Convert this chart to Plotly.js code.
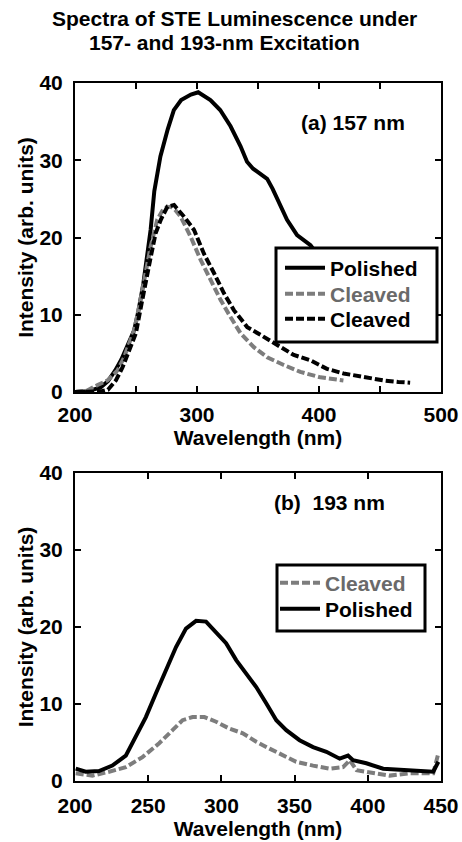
<!DOCTYPE html>
<html>
<head>
<meta charset="utf-8">
<script src="https://cdn.plot.ly/plotly-3.0.1.min.js"></script>
<style>html,body{margin:0;padding:0;background:#fff}</style>
</head>
<body>
<div id="chart" style="width:462px;height:842px"></div>
<script>
// Panel (a): 157-nm excitation
const wlA_polished  = [200, 210, 215, 221, 227, 233, 238, 243, 248.5, 252, 256, 259, 262, 265, 270, 276, 281, 287, 295, 301, 306, 311, 319, 327.5, 335.7, 341, 346, 351, 357.5, 362, 367, 373.8, 382, 388, 393, 405, 418, 430];
const intA_polished = [0, 0.1, 0.3, 0.6, 1.4, 2.8, 4.2, 6.0, 8.0, 10.5, 14.0, 17.5, 21.0, 26.0, 30.5, 34.0, 36.5, 37.8, 38.5, 38.8, 38.3, 37.8, 36.5, 34.4, 31.8, 29.8, 28.9, 28.4, 27.6, 26.3, 24.6, 22.3, 20.3, 19.6, 19.0, 16.5, 13.5, 11.0];

const wlA_cleavedGray  = [200, 210, 218.5, 226.7, 234.9, 240.3, 244.4, 248.5, 252.5, 256.6, 262, 267.4, 272.9, 278.5, 282, 286.6, 294.8, 303, 311.2, 319.4, 327.5, 335.7, 346.6, 357.5, 371.1, 384.7, 401.1, 410, 420];
const intA_cleavedGray = [0, 0.2, 0.9, 1.5, 2.8, 4.5, 6.3, 8.0, 11.0, 14.5, 18.8, 22.3, 23.8, 24.0, 23.6, 22.7, 20.1, 17.1, 14.5, 11.9, 9.7, 7.6, 5.8, 4.5, 3.5, 2.6, 1.9, 1.7, 1.5];

const wlA_cleavedBlack  = [200, 215, 222, 227, 233.5, 239, 244.4, 249.9, 254, 258, 262.1, 266, 270.3, 275.8, 281.2, 285, 289.4, 297.5, 305.7, 313.9, 322, 330.2, 341.2, 352, 365.7, 379.3, 392.9, 406.5, 420.1, 436.5, 452.8, 465, 474.7];
const intA_cleavedBlack = [0, 0, 0.1, 0.3, 1.5, 3.2, 5.4, 7.6, 11.0, 14.5, 17.5, 20.5, 22.3, 24.0, 24.2, 23.5, 22.7, 21.0, 17.9, 15.4, 12.8, 10.6, 8.4, 7.4, 6.1, 4.8, 4.1, 3.0, 2.4, 1.9, 1.5, 1.3, 1.2];

// Panel (b): 193-nm excitation
const wlB_cleaved  = [200.5, 211.9, 223.3, 234.7, 246.1, 257.5, 266.6, 273.5, 280.3, 288.4, 296.4, 305.5, 314.6, 323.8, 332.9, 342, 351.1, 362.6, 374, 383.1, 387.7, 392.3, 403.6, 415, 428.8, 444.7, 448.2];
const intB_cleaved = [1.0, 0.7, 1.2, 1.8, 3.1, 4.9, 6.6, 7.9, 8.3, 8.3, 7.7, 6.8, 6.2, 5.1, 4.2, 3.3, 2.5, 2.0, 1.6, 1.8, 2.7, 1.4, 1.0, 0.7, 1.0, 1.0, 3.6];

const wlB_polished  = [200.5, 207.3, 216.4, 225.5, 234.7, 241.5, 248.4, 255.3, 262.1, 269, 275.8, 282.7, 289.5, 296.4, 303.2, 310.1, 316.9, 323.8, 330.6, 337.5, 344.3, 353.4, 362.6, 371.7, 380.8, 386.5, 389.9, 399, 410.5, 421.9, 433.3, 444.7, 448.2];
const intB_polished = [1.6, 1.2, 1.3, 2.0, 3.3, 5.7, 8.3, 11.4, 14.4, 17.4, 19.8, 20.8, 20.7, 19.2, 17.9, 15.7, 14.0, 12.2, 10.1, 7.9, 6.6, 5.3, 4.4, 3.8, 2.9, 3.3, 2.7, 2.3, 1.6, 1.5, 1.3, 1.2, 2.5];

// Axis ticks and labels
const yTicks = [0, 10, 20, 30, 40];
const xTicksA = [200, 300, 400, 500];
const xTicksB = [200, 250, 300, 350, 400, 450];

const FONT = 'Liberation Sans, Arial, Helvetica, sans-serif';
const GRAY = '#7d7d7d';
const GRAY_TEXT = '#6a6a6a';

function baseAxis(extra) {
  return Object.assign({
    showline: true, linecolor: '#000', linewidth: 2, mirror: 'allticks',
    ticks: 'inside', ticklen: 6, tickwidth: 2, tickcolor: '#000',
    showgrid: false, zeroline: false, fixedrange: true,
    tickfont: {family: FONT, size: 21, weight: 'bold', color: '#000'}
  }, extra);
}
const titleFont = {family: FONT, size: 21, weight: 'bold', color: '#000'};
const solid = {color: '#000', width: 4};
const dashedGray = {color: GRAY, width: 4, dash: '8px,3px'};
const dashedBlack = {color: '#000', width: 4, dash: '8px,3px'};

const traces = [
  {x: wlA_polished, y: intA_polished, xaxis: 'x', yaxis: 'y', mode: 'lines', name: 'Polished',
   line: solid, legend: 'legend'},
  {x: wlA_cleavedGray, y: intA_cleavedGray, xaxis: 'x', yaxis: 'y', mode: 'lines',
   name: '<span style="color:' + GRAY_TEXT + '">Cleaved</span>', line: dashedGray, legend: 'legend2'},
  {x: wlA_cleavedBlack, y: intA_cleavedBlack, xaxis: 'x', yaxis: 'y', mode: 'lines', name: 'Cleaved',
   line: dashedBlack, legend: 'legend3'},
  {x: wlB_cleaved, y: intB_cleaved, xaxis: 'x2', yaxis: 'y2', mode: 'lines',
   name: '<span style="color:' + GRAY_TEXT + '">Cleaved</span>', line: dashedGray, legend: 'legend4'},
  {x: wlB_polished, y: intB_polished, xaxis: 'x2', yaxis: 'y2', mode: 'lines', name: 'Polished',
   line: solid, legend: 'legend5'}
];

// Plot area: 75..441 px horizontally, 83..781 px vertically
const px = v => (v - 75) / 366;
const py = v => (781 - v) / 698;

function legendAt(xPix, yPix) {
  return {
    xref: 'paper', yref: 'paper', xanchor: 'left', yanchor: 'middle',
    x: px(xPix), y: py(yPix),
    bgcolor: 'rgba(0,0,0,0)', borderwidth: 0, itemwidth: 40,
    font: {family: FONT, size: 21, weight: 'bold', color: '#000'}
  };
}
function legendBox(x0, y0, x1, y1) {
  return {type: 'rect', xref: 'paper', yref: 'paper', layer: 'above',
    x0: px(x0), x1: px(x1), y0: py(y1), y1: py(y0),
    fillcolor: '#fff', line: {color: '#000', width: 3}};
}

const layout = {
  width: 462, height: 842,
  margin: {l: 75, r: 21, t: 83, b: 61},
  paper_bgcolor: '#fff', plot_bgcolor: '#fff',
  showlegend: true,
  xaxis: baseAxis({anchor: 'y', range: [200, 500], tickvals: xTicksA, ticktext: xTicksA.map(String),
    minor: {dtick: 50, tick0: 200, ticks: 'inside', ticklen: 6, tickwidth: 2, tickcolor: '#000'},
    ticklabelstandoff: 3,
    title: {text: 'Wavelength (nm)', font: titleFont, standoff: 4}}),
  yaxis: baseAxis({domain: [py(392), 1], anchor: 'x', range: [0, 40], tickvals: yTicks, ticktext: yTicks.map(String),
    ticklabelstandoff: 6,
    title: {text: 'Intensity (arb. units)', font: titleFont, standoff: 0}}),
  xaxis2: baseAxis({anchor: 'y2', range: [200, 450], tickvals: xTicksB, ticktext: xTicksB.map(String),
    ticklabelstandoff: 5,
    title: {text: 'Wavelength (nm)', font: titleFont, standoff: 4}}),
  yaxis2: baseAxis({domain: [0, py(473)], anchor: 'x2', range: [0, 40], tickvals: yTicks, ticktext: yTicks.map(String),
    ticklabelstandoff: 6,
    title: {text: 'Intensity (arb. units)', font: titleFont, standoff: 0}}),
  legend: legendAt(280, 268),
  legend2: legendAt(280, 294),
  legend3: legendAt(280, 319),
  legend4: legendAt(275, 583),
  legend5: legendAt(275, 609),
  shapes: [
    legendBox(276, 248, 437, 342),
    legendBox(277, 565, 425, 631)
  ],
  annotations: [
    {text: 'Spectra of STE Luminescence under', xref: 'paper', yref: 'paper', x: px(234), y: py(18),
     xanchor: 'center', yanchor: 'middle', showarrow: false, font: titleFont},
    {text: '157- and 193-nm Excitation', xref: 'paper', yref: 'paper', x: px(224), y: py(42.5),
     xanchor: 'center', yanchor: 'middle', showarrow: false, font: titleFont},
    {text: '(a) 157 nm', xref: 'paper', yref: 'paper', x: px(353), y: py(122),
     xanchor: 'center', yanchor: 'middle', showarrow: false, font: titleFont},
    {text: '(b)\u00a0 193 nm', xref: 'paper', yref: 'paper', x: px(329), y: py(502),
     xanchor: 'center', yanchor: 'middle', showarrow: false, font: titleFont}
  ]
};

Plotly.newPlot('chart', traces, layout, {staticPlot: true, displayModeBar: false});
</script>
</body>
</html>
